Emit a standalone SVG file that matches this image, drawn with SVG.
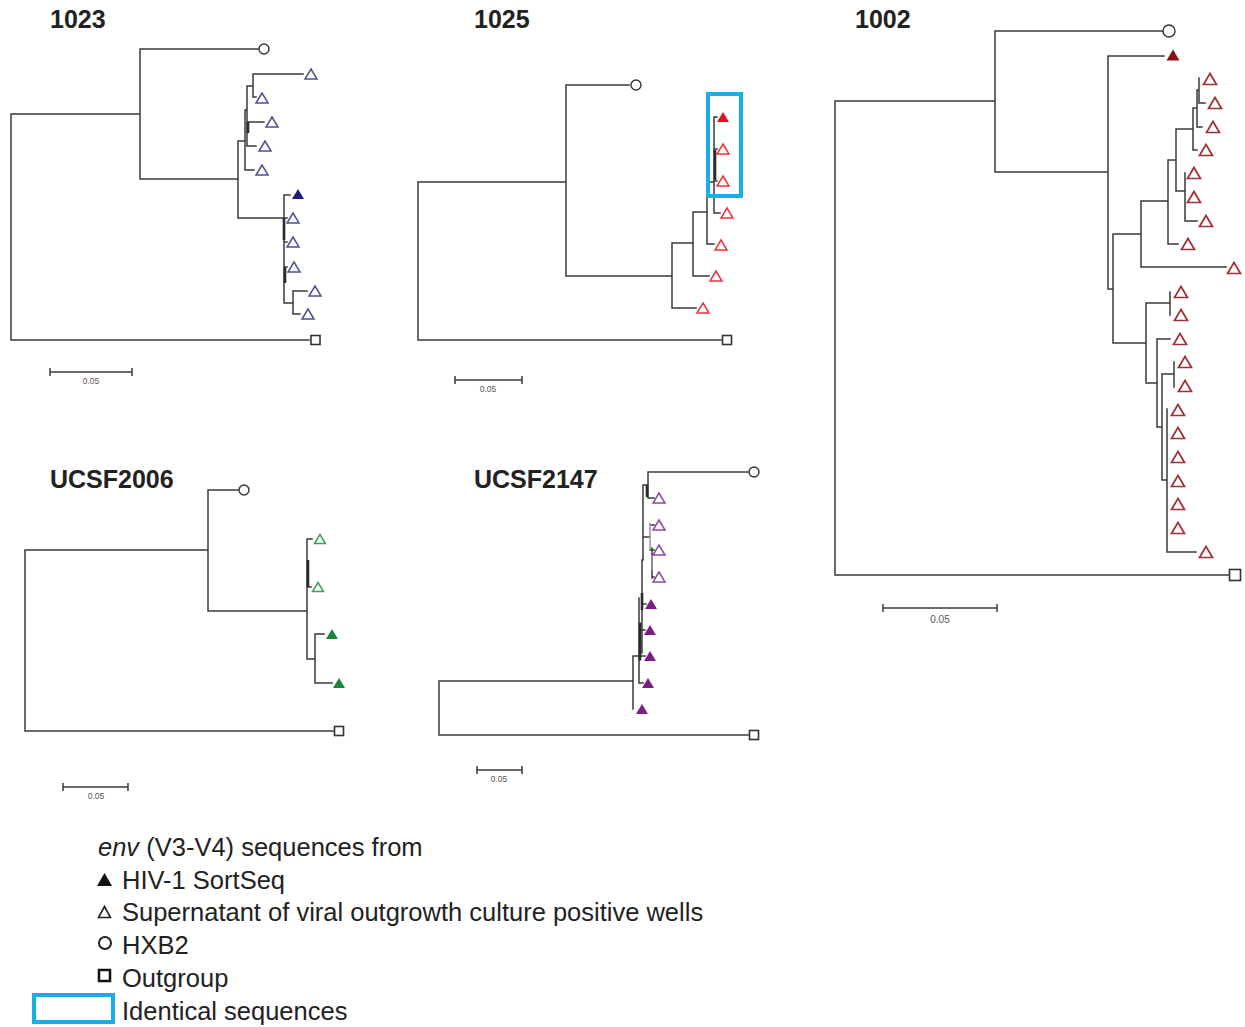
<svg xmlns="http://www.w3.org/2000/svg" xmlns:xlink="http://www.w3.org/1999/xlink" width="1245" height="1027" viewBox="0 0 1245 1027">
<style>
.br{fill:none;stroke:#3a3a3a;stroke-width:1.5;stroke-linecap:square}
.thk{fill:none;stroke:#2a2a2a;stroke-width:2.6}
.gry{fill:none;stroke:#9a9a9a;stroke-width:1.5}
.ttl{font-family:"Liberation Sans",Arial,sans-serif;font-weight:bold;font-size:25px;fill:#222}
.sc{font-family:"Liberation Sans",Arial,sans-serif;font-size:8.5px;fill:#555;text-anchor:middle}
.sb{fill:none;stroke:#3a3a3a;stroke-width:1.5}
.hx{fill:#fff;stroke:#333;stroke-width:1.4}
.og{fill:#fff;stroke:#333;stroke-width:1.6}
.o1023{fill:none;stroke:#4f4f91;stroke-width:1.5}
.f1023{fill:#1e1e7a}
.o1025{fill:none;stroke:#e8343f;stroke-width:1.5}
.f1025{fill:#e0141e}
.o1002{fill:none;stroke:#9e2f35;stroke-width:1.7}
.f1002{fill:#8b0f14}
.o2006{fill:none;stroke:#3f9b5e;stroke-width:1.5}
.f2006{fill:#17873a}
.o2147{fill:none;stroke:#8c4a9c;stroke-width:1.5}
.f2147{fill:#7b1f86}
.lg{font-family:"Liberation Sans",Arial,sans-serif;font-size:25.5px;fill:#222}
.box{fill:none;stroke:#19aee6;stroke-width:4}
</style>
<defs>
<path id="tA" d="M0,-5 L6,5 L-6,5 Z"/>
<path id="tB" d="M0,-5.5 L6.5,5.5 L-6.5,5.5 Z"/>
<path id="tC" d="M0,-4.5 L5.5,4.5 L-5.5,4.5 Z"/>
</defs>

<!-- titles -->
<text class="ttl" x="50" y="28">1023</text>
<text class="ttl" x="474" y="28">1025</text>
<text class="ttl" x="855" y="28">1002</text>
<text class="ttl" x="50" y="488">UCSF2006</text>
<text class="ttl" x="474" y="488">UCSF2147</text>

<g id="connectors">
  <!-- 1023 -->
  <path class="br" d="M11,114 V340 H309 M11,114 H140 M140,49 V179 M140,49 H258 M140,179 H238 M238,141 V218 M238,141 H245 M245,110 V170 M245,170 H254 M245,110 H247 M247,86 V146 M247,86 H253 M253,74 V97 M253,74 H303 M253,97 H256 M247,122 H264 M247,146 H256 M238,218 H284 M284,195 V303 M284,195 H290 M284,218 H287 M284,242 H287 M284,267 H287 M284,303 H293 M293,291 V314 M293,291 H307 M293,314 H300"/>
  <path class="thk" d="M284,218 V240 M285,267 V283 M248,122 V133"/>
  <!-- 1025 -->
  <path class="br" d="M418,182 V340 H721 M418,182 H566 M566,85 V276 M566,85 H629 M566,276 H672 M672,243 V308 M672,308 H696 M672,243 H693 M693,212 V276 M693,276 H709 M693,212 H707 M707,182 V244 M707,244 H714 M707,182 H714 M714,117 V213 M714,213 H720 M714,117 H717 M714,149 H717 M714,181 H717"/>
  <path class="thk" d="M715,150 V180"/>
  <!-- 1002 -->
  <path class="br" d="M835,101 V575 H1229 M835,101 H995 M995,31 V172 M995,31 H1163 M995,172 H1108 M1108,56 V289 M1108,56 H1164 M1108,289 H1113 M1113,234 V343 M1113,234 H1141 M1141,201 V267 M1141,267 H1226 M1141,201 H1168 M1168,160 V244 M1168,244 H1178 M1168,160 H1176 M1176,129 V191 M1176,191 H1185 M1185,173 V221 M1185,221 H1197 M1176,129 H1193 M1193,108 V150 M1193,150 H1197 M1193,108 H1197 M1197,90 V127 M1197,127 H1202 M1197,90 H1199 M1199,78 V103 M1199,103 H1205 M1113,343 H1146 M1146,303 V383 M1146,303 H1170 M1170,292 V315 M1146,383 H1157 M1157,339 V427 M1157,339 H1170 M1157,427 H1162 M1162,374 V480 M1162,374 H1174 M1174,362 V387 M1162,480 H1167 M1167,409 V552 M1167,552 H1196"/>
  <!-- UCSF2006 -->
  <path class="br" d="M25,550 V731 H333 M25,550 H208 M208,490 V611 M208,490 H238 M208,611 H307 M307,539 V659 M307,539 H312 M307,587 H311 M307,659 H315 M315,634 V683 M315,634 H324 M315,683 H332"/>
  <path class="thk" d="M308,560 V587"/>
  <!-- UCSF2147 -->
  <path class="br" d="M439,681 V735 H748 M439,681 H633 M633,656 V709 M633,656 H640 M640,623 V660 M640,630 H645 M640,656 H645 M639,598 V683 M639,683 H643 M642,560 V653 M642,604 H646 M643,485 V560 M643,485 H648 M648,472 V498 M648,472 H748 M648,498 H654 M643,537 H650 M650,525 H654 M650,550 H652 M652,548 V578 M652,550 H654 M652,577 H654"/>
  <path class="thk" d="M640,623 V660 M642,593 V610 M647,485 V497"/>
  <path class="gry" d="M650,523 V550 M652,555 V570"/>
</g>

<!-- scale bars -->
<g id="scale-1023"><path class="sb" d="M50,368 V376 M50,372 H132 M132,368 V376"/><text class="sc" x="91" y="384">0.05</text></g>
<g id="scale-1025"><path class="sb" d="M455,376 V384 M455,380 H522 M522,376 V384"/><text class="sc" x="488" y="392">0.05</text></g>
<g id="scale-1002"><path class="sb" d="M883,604 V612 M883,608 H997 M997,604 V612"/><text class="sc" x="940" y="623" style="font-size:10px">0.05</text></g>
<g id="scale-2006"><path class="sb" d="M63,783 V791 M63,787 H128 M128,783 V791"/><text class="sc" x="96" y="799">0.05</text></g>
<g id="scale-2147"><path class="sb" d="M477,766 V774 M477,770 H522 M522,766 V774"/><text class="sc" x="499" y="782">0.05</text></g>

<!-- 1023 nodes -->
<g id="n1023-hxb2"><circle class="hx" cx="264" cy="49" r="5"/></g>
<g id="n1023-out"><rect class="og" x="311" y="335.5" width="9" height="9"/></g>
<g id="n1023-1"><use href="#tA" x="311" y="74" class="o1023"/></g>
<g id="n1023-2"><use href="#tA" x="262" y="98" class="o1023"/></g>
<g id="n1023-3"><use href="#tA" x="272" y="122" class="o1023"/></g>
<g id="n1023-4"><use href="#tA" x="265" y="146" class="o1023"/></g>
<g id="n1023-5"><use href="#tA" x="262" y="170" class="o1023"/></g>
<g id="n1023-6"><use href="#tA" x="298" y="194" class="f1023"/></g>
<g id="n1023-7"><use href="#tA" x="293" y="218" class="o1023"/></g>
<g id="n1023-8"><use href="#tA" x="293" y="242" class="o1023"/></g>
<g id="n1023-9"><use href="#tA" x="294" y="267" class="o1023"/></g>
<g id="n1023-10"><use href="#tA" x="315" y="291" class="o1023"/></g>
<g id="n1023-11"><use href="#tA" x="308" y="314" class="o1023"/></g>

<!-- 1025 nodes -->
<g id="n1025-hxb2"><circle class="hx" cx="636" cy="85" r="5"/></g>
<g id="n1025-out"><rect class="og" x="722.5" y="335.5" width="9" height="9"/></g>
<g id="n1025-1"><use href="#tA" x="723" y="117" class="f1025"/></g>
<g id="n1025-2"><use href="#tA" x="723" y="149" class="o1025"/></g>
<g id="n1025-3"><use href="#tA" x="723" y="181" class="o1025"/></g>
<g id="n1025-4"><use href="#tA" x="727" y="213" class="o1025"/></g>
<g id="n1025-5"><use href="#tA" x="721" y="245" class="o1025"/></g>
<g id="n1025-6"><use href="#tA" x="716" y="276" class="o1025"/></g>
<g id="n1025-7"><use href="#tA" x="703" y="308" class="o1025"/></g>
<g id="n1025-identical"><rect class="box" x="708" y="94" width="33" height="102"/></g>

<!-- 1002 nodes -->
<g id="n1002-hxb2"><circle class="hx" cx="1169" cy="31" r="6"/></g>
<g id="n1002-out"><rect class="og" x="1229.5" y="569.5" width="11" height="11"/></g>
<g id="n1002-1"><use href="#tB" x="1173" y="55" class="f1002"/></g>
<g id="n1002-2"><use href="#tB" x="1210" y="79" class="o1002"/></g>
<g id="n1002-3"><use href="#tB" x="1215" y="103" class="o1002"/></g>
<g id="n1002-4"><use href="#tB" x="1213" y="127" class="o1002"/></g>
<g id="n1002-5"><use href="#tB" x="1206" y="150" class="o1002"/></g>
<g id="n1002-6"><use href="#tB" x="1194" y="173" class="o1002"/></g>
<g id="n1002-7"><use href="#tB" x="1194" y="197" class="o1002"/></g>
<g id="n1002-8"><use href="#tB" x="1206" y="221" class="o1002"/></g>
<g id="n1002-9"><use href="#tB" x="1188" y="244" class="o1002"/></g>
<g id="n1002-10"><use href="#tB" x="1234" y="268" class="o1002"/></g>
<g id="n1002-11"><use href="#tB" x="1181" y="292" class="o1002"/></g>
<g id="n1002-12"><use href="#tB" x="1181" y="315" class="o1002"/></g>
<g id="n1002-13"><use href="#tB" x="1180" y="339" class="o1002"/></g>
<g id="n1002-14"><use href="#tB" x="1185" y="362" class="o1002"/></g>
<g id="n1002-15"><use href="#tB" x="1185" y="386" class="o1002"/></g>
<g id="n1002-16"><use href="#tB" x="1178" y="410" class="o1002"/></g>
<g id="n1002-17"><use href="#tB" x="1178" y="433" class="o1002"/></g>
<g id="n1002-18"><use href="#tB" x="1178" y="457" class="o1002"/></g>
<g id="n1002-19"><use href="#tB" x="1178" y="481" class="o1002"/></g>
<g id="n1002-20"><use href="#tB" x="1178" y="504" class="o1002"/></g>
<g id="n1002-21"><use href="#tB" x="1178" y="528" class="o1002"/></g>
<g id="n1002-22"><use href="#tB" x="1206" y="552" class="o1002"/></g>

<!-- UCSF2006 nodes -->
<g id="n2006-hxb2"><circle class="hx" cx="244" cy="490" r="5"/></g>
<g id="n2006-out"><rect class="og" x="334.5" y="726.5" width="9" height="9"/></g>
<g id="n2006-1"><use href="#tC" x="320" y="539" class="o2006"/></g>
<g id="n2006-2"><use href="#tC" x="318" y="587" class="o2006"/></g>
<g id="n2006-3"><use href="#tA" x="332" y="634" class="f2006"/></g>
<g id="n2006-4"><use href="#tA" x="339" y="683" class="f2006"/></g>

<!-- UCSF2147 nodes -->
<g id="n2147-hxb2"><circle class="hx" cx="754" cy="472" r="5"/></g>
<g id="n2147-out"><rect class="og" x="749.5" y="730.5" width="9" height="9"/></g>
<g id="n2147-1"><use href="#tA" x="659" y="498" class="o2147"/></g>
<g id="n2147-2"><use href="#tA" x="659" y="525" class="o2147"/></g>
<g id="n2147-3"><use href="#tA" x="659" y="550" class="o2147"/></g>
<g id="n2147-4"><use href="#tA" x="659" y="577" class="o2147"/></g>
<g id="n2147-5"><use href="#tA" x="651" y="604" class="f2147"/></g>
<g id="n2147-6"><use href="#tA" x="650" y="630" class="f2147"/></g>
<g id="n2147-7"><use href="#tA" x="650" y="656" class="f2147"/></g>
<g id="n2147-8"><use href="#tA" x="648" y="683" class="f2147"/></g>
<g id="n2147-9"><use href="#tA" x="642" y="709" class="f2147"/></g>

<!-- legend -->
<g id="legend">
  <text class="lg" x="98" y="856"><tspan font-style="italic">env</tspan> (V3-V4) sequences from</text>
  <path d="M104.5,873 L112,886 L97,886 Z" fill="#111"/>
  <text class="lg" x="122" y="889">HIV-1 SortSeq</text>
  <path d="M104.5,906.5 L110.5,917.5 L98.5,917.5 Z" fill="none" stroke="#222" stroke-width="1.6"/>
  <text class="lg" x="122" y="921">Supernatant of viral outgrowth culture positive wells</text>
  <circle cx="105" cy="943" r="6" fill="none" stroke="#222" stroke-width="2"/>
  <text class="lg" x="122" y="954">HXB2</text>
  <rect x="99" y="970" width="11" height="11" fill="none" stroke="#111" stroke-width="2.5"/>
  <text class="lg" x="122" y="987">Outgroup</text>
  <rect class="box" x="34" y="995" width="79" height="27"/>
  <text class="lg" x="122" y="1020">Identical sequences</text>
</g>
</svg>
